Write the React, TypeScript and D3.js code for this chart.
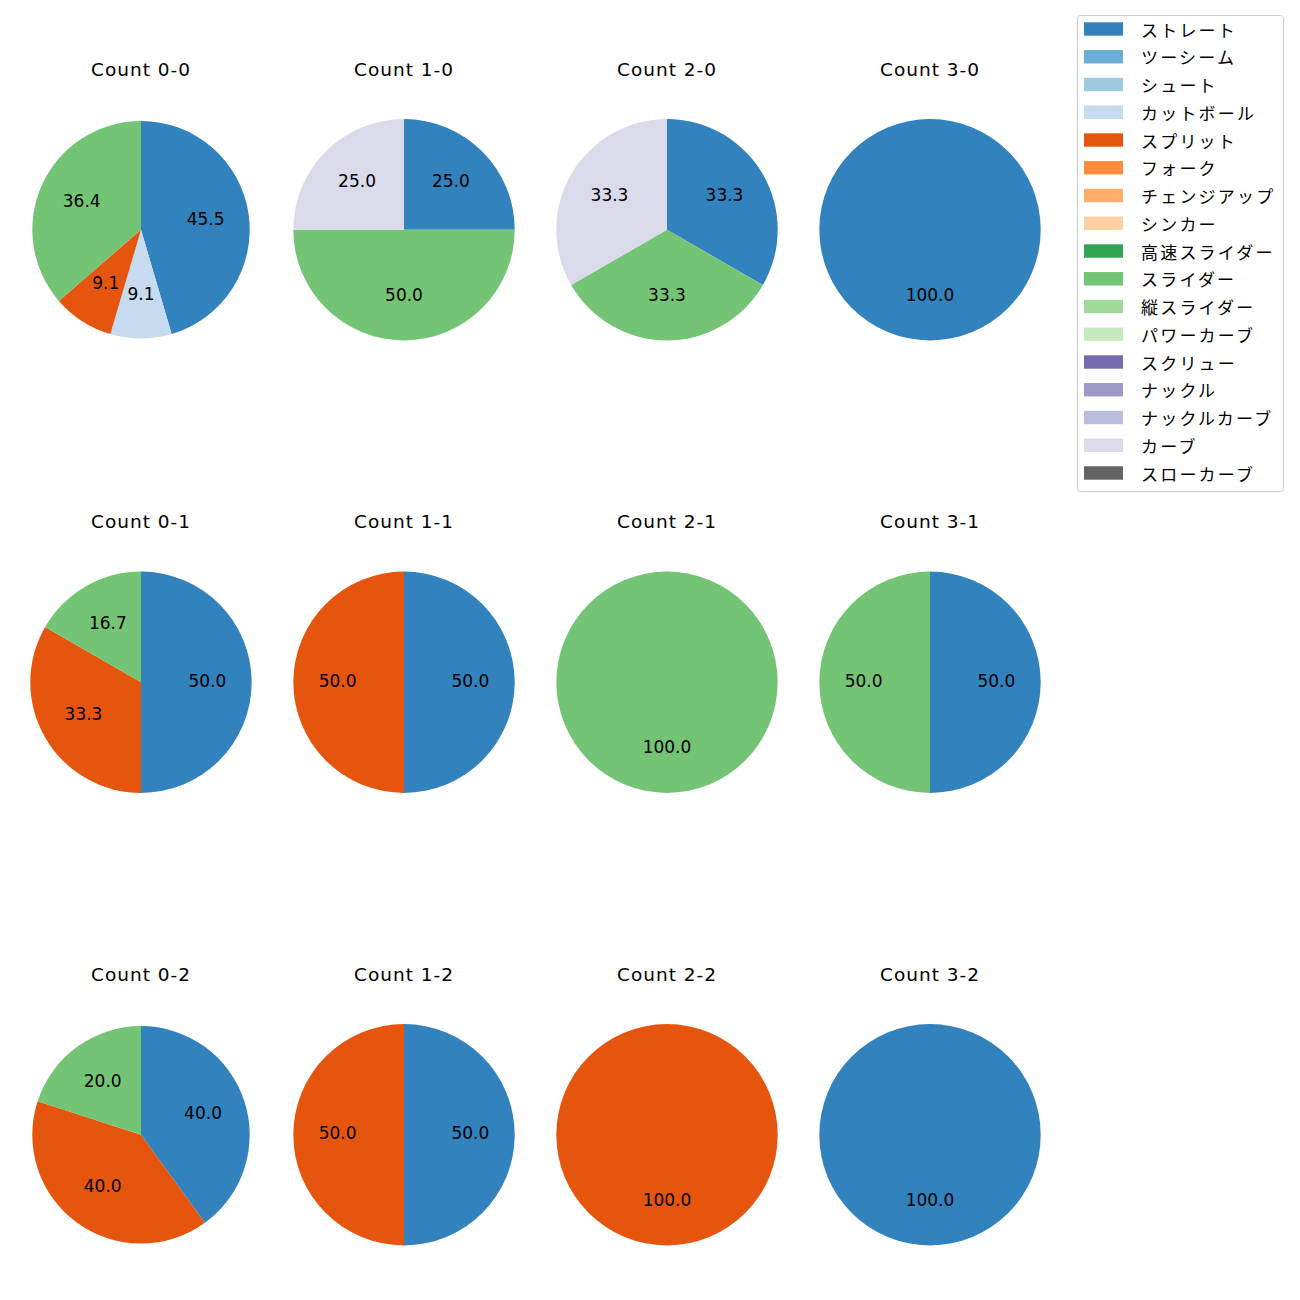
import React from "react";
import * as d3 from "d3";

const pitchTypes = ["ストレート","ツーシーム","シュート","カットボール","スプリット","フォーク","チェンジアップ","シンカー","高速スライダー","スライダー","縦スライダー","パワーカーブ","スクリュー","ナックル","ナックルカーブ","カーブ","スローカーブ"];
const pitchColors = ["#3182bd","#6baed6","#9ecae1","#c6dbef","#e6550d","#fd8d3c","#fdae6b","#fdd0a2","#31a354","#74c476","#a1d99b","#c7e9c0","#756bb1","#9e9ac8","#bcbddc","#dadaeb","#636363"];

const panelTitles = ["Count 0-0","Count 1-0","Count 2-0","Count 3-0","Count 0-1","Count 1-1","Count 2-1","Count 3-1","Count 0-2","Count 1-2","Count 2-2","Count 3-2"];
const panelPitches = [
  ["ストレート","カットボール","スプリット","スライダー"],
  ["ストレート","スライダー","カーブ"],
  ["ストレート","スライダー","カーブ"],
  ["ストレート"],
  ["ストレート","スプリット","スライダー"],
  ["ストレート","スプリット"],
  ["スライダー"],
  ["ストレート","スライダー"],
  ["ストレート","スプリット","スライダー"],
  ["ストレート","スプリット"],
  ["スプリット"],
  ["ストレート"],
];
const panelCounts = [
  [5,1,1,4],
  [1,2,1],
  [1,1,1],
  [1],
  [3,2,1],
  [1,1],
  [1],
  [1,1],
  [2,2,1],
  [1,1],
  [1],
  [1],
];
const panelRadii = [108.7,110.7,110.7,110.7,110.7,110.7,110.7,110.7,108.7,110.7,110.7,110.7];

const LATIN = "'DejaVu Sans', 'Noto Sans CJK JP', sans-serif";
const CJK = "'Noto Sans CJK JP', 'Noto Sans', sans-serif";

export default function App() {
  const color = d3.scaleOrdinal<string, string>().domain(pitchTypes).range(pitchColors);
  const colX = d3.scaleLinear().domain([0, 3]).range([141, 930]);
  const rowY = d3.scaleLinear().domain([0, 2]).range([229.7, 1134.8]);
  const pie = d3.pie<number>().sort(null).value((d) => d);

  return (
    <svg width={1300} height={1300} style={{ position: "absolute", left: 0, top: 0 }}>
      <rect width={1300} height={1300} fill="#fff" />
      {panelTitles.map((title, i) => {
        const cx = colX(i % 4);
        const cy = rowY(Math.floor(i / 4));
        const R = panelRadii[i];
        const arc = d3.arc<d3.PieArcDatum<number>>().innerRadius(0).outerRadius(R);
        const labelArc = d3.arc<d3.PieArcDatum<number>>().innerRadius(R * 0.6).outerRadius(R * 0.6);
        const counts = panelCounts[i];
        const total = d3.sum(counts);
        const arcs = pie(counts);
        return (
          <g key={title} transform={`translate(${cx},${cy})`}>
            <text x={0} y={-154} textAnchor="middle" fontSize={18.5} letterSpacing={1} fontFamily={LATIN} fill="#000">{title}</text>
            {arcs.map((a, j) => (
              <path key={j} d={arc(a) || ""} fill={color(panelPitches[i][j])} />
            ))}
            {arcs.map((a, j) => {
              const [lx, ly] = labelArc.centroid(a);
              return (
                <text key={"l" + j} x={lx} y={ly + 4.6} textAnchor="middle" fontSize={17} fontFamily={LATIN} fill="#000">
                  {((counts[j] / total) * 100).toFixed(1)}
                </text>
              );
            })}
          </g>
        );
      })}
      <g transform="translate(1077,15)">
        <rect x={0.5} y={0.5} width={206} height={476} rx={3} fill="#fff" stroke="#ccc" />
        {pitchTypes.map((p, i) => (
          <g key={p} transform={`translate(0,${14 + i * 27.75})`}>
            <rect x={7} y={-6.7} width={39} height={13.4} fill={color(p)} />
            <text x={64} y={0} dominantBaseline="central" fontSize={17} letterSpacing={2.2} fontFamily={CJK} fill="#000">{p}</text>
          </g>
        ))}
      </g>
    </svg>
  );
}
